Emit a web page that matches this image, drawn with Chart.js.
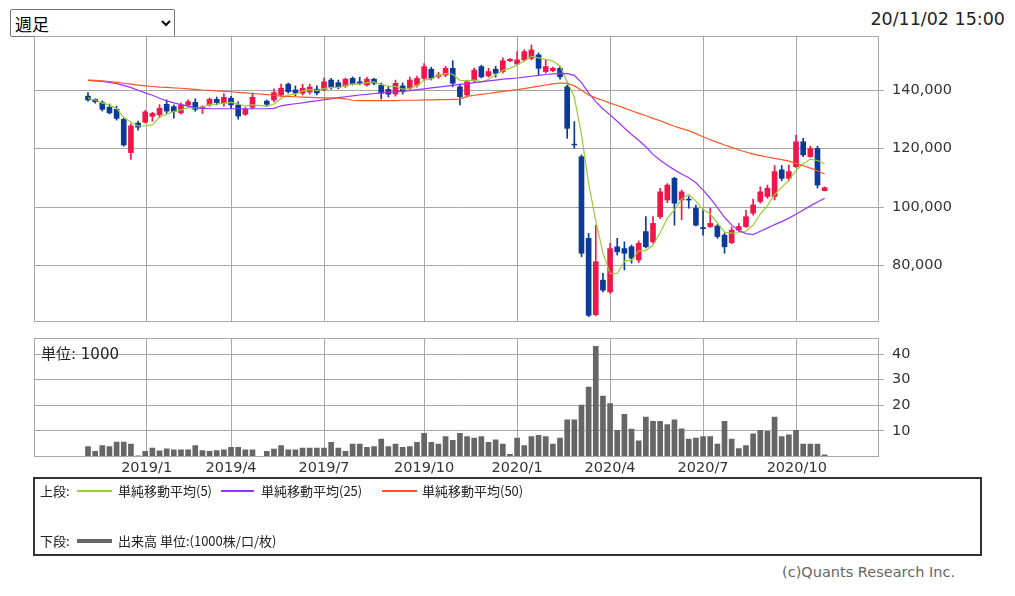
<!DOCTYPE html>
<html>
<head>
<meta charset="utf-8">
<script src="https://cdn.jsdelivr.net/npm/chart.js@4.4.0/dist/chart.umd.min.js"></script>
<style>
  body { margin: 0; background: #fff; font-family: "DejaVu Sans", "Noto Sans CJK JP", sans-serif; }
  #wrap { position: relative; width: 1015px; height: 596px; overflow: hidden; }
  canvas { position: absolute; left: 0; }
  .txt { position: absolute; white-space: nowrap; color: #222; }
  .lg { position: absolute; white-space: nowrap; font: 13px "Noto Sans CJK JP", sans-serif; color: #222; line-height: 16px; }
  .sw { position: absolute; }
</style>
</head>
<body>
<div id="wrap">
  <select style="position:absolute;left:10px;top:9px;width:165px;height:28px;font-size:17px;font-family:'Noto Sans CJK JP';">
    <option>週足</option>
  </select>
  <div class="txt" style="right:10px;top:9px;font-size:17.5px;">20/11/02 15:00</div>

  <canvas id="price" width="1015" height="350" style="top:0"></canvas>
  <canvas id="vol" width="1015" height="170" style="top:310px"></canvas>
  <div class="txt" style="left:41px;top:342px;font-size:15px;">単位: 1000</div>

  <div style="position:absolute;left:33px;top:477px;width:949px;height:79px;border:2px solid #333;box-sizing:border-box;"></div>
  <div class="lg" style="left:40px;top:483px;">上段:</div>
  <div class="sw" style="left:77px;top:490px;width:35px;height:2px;background:#99cc33;"></div>
  <div class="lg" style="left:118px;top:483px;">単純移動平均(5)</div>
  <div class="sw" style="left:221px;top:490px;width:33px;height:2px;background:#9933ff;"></div>
  <div class="lg" style="left:261px;top:483px;">単純移動平均(25)</div>
  <div class="sw" style="left:382px;top:490px;width:35px;height:2px;background:#ff5522;"></div>
  <div class="lg" style="left:422px;top:483px;">単純移動平均(50)</div>
  <div class="lg" style="left:40px;top:533px;">下段:</div>
  <div class="sw" style="left:77px;top:539px;width:35px;height:4px;background:#666;"></div>
  <div class="lg" style="left:118px;top:533px;">出来高 単位:(1000株/口/枚)</div>

  <div class="txt" style="right:60px;top:564px;font-size:14.5px;color:#666;">(c)Quants Research Inc.</div>
</div>

<script>
// weekly candles, index 0 = week of 2018/11/12 ... index 103 = week of 2020/11/02
// index 24 = Golden Week 2019, no trading
const openP = [
  137900, 136800, 135700, 134100, 133400, 130000, 118600, 128700, 129000, 131000,
  131500, 135100, 134300, 132200, 134900, 135800, 133700, 134900, 136800, 135500,
  137200, 134900, 131700, 134100, null,   136200, 136600, 138300, 142000, 140000,
  138900, 139300, 140300, 140200, 143400, 142500, 141400, 144000, 142800, 141700,
  143700, 141700, 140200, 138600, 141400, 140600, 141700, 144000, 147100, 144600,
  145100, 147400, 141100, 138300, 143400, 148000, 144800, 147100, 146300, 150000,
  148900, 150300, 150800, 152000, 146300, 146600, 147400, 141100, 121500, 117200,
  89300,  63200,  75000,  71000,  86400,  85800,  86400,  81900,  91600,  88100,
  96700,  102400, 109800, 102400, 102700, 99600,  93000,  93300,  93500,  90400,
  87800,  92100,  93300,  97900,  101900, 103600, 103600, 112700, 109800, 113800,
  122300, 117200, 120000, 105600
];
const highP = [
  139100, 137000, 136300, 135200, 134500, 130400, 128400, 129400, 133000, 132400,
  135000, 136600, 134900, 135600, 136600, 137000, 134600, 137300, 137600, 138800,
  137800, 136000, 134000, 139000, null,   136600, 140400, 142000, 142400, 141400,
  142000, 142000, 141400, 144100, 144000, 143400, 144100, 144500, 144400, 144300,
  144000, 142400, 141400, 143400, 142400, 144400, 144800, 149000, 147800, 146000,
  148100, 150000, 142000, 143400, 147500, 148500, 147400, 148100, 151000, 150800,
  153100, 153800, 155400, 152700, 150300, 147800, 148000, 141700, 129200, 117800,
  91000,  93800,  77300,  87600,  89300,  88100,  87000,  88400,  96700,  96700,
  106400, 108000, 110200, 105800, 103600, 100700, 99000,  99600,  94000,  91000,
  93200,  94400,  98900,  102700, 106900, 107500, 114200, 114200, 114300, 124600,
  123500, 120800, 120800, 106900
];
const lowP = [
  136200, 135500, 132800, 131800, 129700, 120800, 116300, 126300, 128700, 129300,
  130500, 132000, 130400, 131700, 134500, 132700, 132000, 134500, 134900, 134500,
  133700, 130000, 131300, 133500, null,   134600, 136000, 137600, 138900, 138000,
  138300, 138600, 138300, 139800, 140300, 140400, 140900, 141700, 141800, 141300,
  141700, 136900, 137600, 137900, 138600, 139800, 141000, 143400, 143400, 144000,
  144500, 141100, 134900, 137600, 142700, 144100, 144400, 144400, 145800, 149700,
  148500, 149900, 150300, 145100, 145800, 146300, 143700, 123500, 120100, 83000,
  62500,  62800,  71000,  70500,  83600,  78500,  80800,  81000,  86000,  87600,
  96000,  101500, 93800,  95600,  99600,  93500,  90400,  93000,  89300,  84200,
  87500,  91600,  93000,  97200,  101300, 103000, 102400, 109000, 108900, 113500,
  117200, 117000, 106500, 105500
];
const closeP = [
  136600, 136000, 133400, 132200, 130300, 121200, 127700, 127300, 132500, 132000,
  133800, 132800, 132600, 134900, 136000, 133400, 134200, 136800, 135700, 137500,
  134900, 131100, 133400, 137500, null,   135100, 139100, 140600, 139400, 139000,
  140600, 141000, 139000, 142800, 140900, 140900, 143700, 142100, 142300, 143700,
  142300, 138900, 138600, 142300, 139400, 143400, 144000, 148000, 144000, 145100,
  147400, 142300, 137700, 142800, 146800, 144500, 146300, 145700, 150000, 150500,
  150300, 153100, 153700, 147400, 148000, 147400, 144500, 126900, 121200, 84200,
  63000,  81300,  71600,  85800,  84700,  84200,  82500,  87600,  86400,  94400,
  105200, 107500, 101300, 105200, 102400, 93800,  92600,  94400,  89900,  86400,
  92100,  93300,  96700,  100700, 105200, 106400, 112100, 109800, 112100, 122300,
  117800, 120000, 107500, 106600
];
// volume, unit 1000
const volume = [
  3.9, 2.0, 4.3, 3.9, 5.6, 5.6, 4.9, 0.3, 2.0, 3.3,
  2.2, 3.0, 2.6, 2.6, 2.6, 4.3, 2.3, 2.0, 2.3, 2.6,
  3.6, 3.6, 2.6, 2.6, null, 2.0, 2.9, 4.3, 2.6, 2.6,
  3.3, 3.3, 3.3, 3.3, 5.5, 3.3, 2.0, 4.9, 4.9, 3.6,
  3.9, 6.8, 3.9, 4.9, 3.6, 3.9, 5.5, 9.1, 5.5, 4.9,
  7.8, 6.3, 9.1, 7.8, 7.2, 7.8, 5.5, 6.5, 4.9, 0.8,
  7.2, 4.3, 7.8, 8.3, 7.8, 4.9, 7.2, 14.3, 14.3, 20.1,
  27.1, 43.0, 23.6, 20.7, 10.2, 16.5, 10.7, 6.1, 15.4, 13.7,
  13.7, 12.5, 14.3, 10.8, 6.8, 7.2, 7.8, 7.8, 4.9, 13.7,
  6.8, 3.1, 4.3, 8.9, 10.2, 9.8, 15.4, 7.8, 8.5, 10.2,
  4.9, 4.9, 4.9, 0.7
];
const ma5 = [
  137200, 136600, 135500, 134900, 133700, 130600, 129000, 127700, 127800, 128100,
  130700, 131700, 132700, 133200, 134000, 133900, 134200, 135100, 135200, 135500,
  135800, 135200, 134500, 134900, null,   134400, 135200, 137100, 138300, 138600,
  139700, 140100, 139800, 140500, 140900, 140900, 141500, 142100, 142000, 142500,
  142800, 141900, 141200, 141200, 140300, 140500, 141500, 143400, 143800, 144900,
  145700, 145400, 143300, 143100, 143400, 142800, 143600, 145200, 146700, 147400,
  148600, 149900, 151500, 151000, 150500, 149900, 148200, 142800, 137600, 124800,
  108000, 95300,  84300,  77200,  77300,  81500,  81800,  85000,  85100,  87000,
  91200,  96200,  99000,  102700, 104300, 102000, 99100,  97700,  94600,  91400,
  91100,  91200,  91700,  93800,  97600,  100500, 104200, 106800, 109100, 112500,
  114800, 116400, 115900, 114800
];
const ma25 = [
  143300, 143100, 142900, 142600, 142200, 141600, 140800, 139900, 139000, 138200,
  137200, 136300, 135600, 135000, 134500, 134000, 133700, 133600, 133600, 133600,
  133600, 133600, 133600, 133600, null,   133600, 133700, 134600, 135000, 135300,
  135600, 136000, 136300, 136700, 137000, 137400, 137700, 138000, 138300, 138500,
  138800, 139000, 139200, 139400, 139600, 139800, 140100, 140400, 140700, 141000,
  141300, 141600, 141900, 142200, 142500, 142800, 143100, 143400, 143700, 143900,
  144100, 144400, 144700, 145000, 145300, 145500, 145700, 145600, 145000, 142500,
  139000, 136000, 133500, 131500, 129300, 127000, 124800, 122800, 120600, 118000,
  116000, 114300, 112700, 111300, 110000, 108300, 105800, 103000, 99800,  96500,
  93800,  92000,  90900,  90600,  91700,  92800,  94000,  95000,  96200,  97500,
  99000,  100400, 101700, 103000
];
const ma50 = [
  143400, 143300, 143100, 142900, 142600, 142300, 142000, 141700, 141400, 141200,
  141000, 140900, 140700, 140600, 140400, 140200, 140000, 139900, 139700, 139500,
  139400, 139200, 139000, 138800, null,   138400, 138200, 137900, 137800, 137700,
  137600, 137500, 137400, 137300, 137300, 137200, 137000, 136500, 136400, 136400,
  136400, 136400, 136400, 136400, 136500, 136500, 136500, 136600, 136600, 136700,
  136700, 136800, 136900, 137800, 138200, 138500, 138800, 139200, 139500, 139800,
  140100, 140500, 140900, 141300, 141700, 142100, 142400, 142300, 141400, 139900,
  138300, 137300, 136400, 135500, 134700, 133800, 132900, 132000, 131200, 130300,
  129500, 128500, 127600, 126800, 126100, 125100, 124000, 123000, 122100, 121200,
  120400, 119500, 118800, 118100, 117600, 117100, 116600, 116200, 115700, 114900,
  114100, 113300, 112400, 111300
];

// x axis: week index positions of the quarter grid lines
const tickPos = [8.2, 20, 33, 47, 60, 73, 86, 99.1];
const tickLabels = ['2019/1', '2019/4', '2019/7', '2019/10', '2020/1', '2020/4', '2020/7', '2020/10'];
const priceTicks = [80000, 100000, 120000, 140000];
const volTicks = [10, 20, 30, 40];

const UP = '#f0164a';
const DOWN = '#0c3a98';
const GRID = '#a8a8a8';
const X_MIN = -7.55, X_MAX = 110.6;
const tickFont = { family: 'DejaVu Sans', size: 14.5 };

// candle points (skip empty week)
const candles = [];
openP.forEach(function (o, i) {
  if (o === null) return;
  candles.push({ i: i, o: o, h: highP[i], l: lowP[i], c: closeP[i], up: closeP[i] >= o });
});

const framePlugin = {
  id: 'frame',
  afterDraw(chart) {
    const a = chart.chartArea;
    const ctx = chart.ctx;
    ctx.save();
    ctx.strokeStyle = GRID;
    ctx.lineWidth = 1;
    ctx.strokeRect(Math.round(a.left) + 0.5, Math.round(a.top) + 0.5,
      Math.round(a.right - a.left) - 1, Math.round(a.bottom - a.top) - 1);
    ctx.restore();
  }
};

function candleColor(ctx) {
  return ctx.raw && ctx.raw.up ? UP : DOWN;
}

function lineSet(values, color) {
  return {
    type: 'line',
    data: values.map(function (v, i) { return { x: i, y: v }; }),
    borderColor: color,
    borderWidth: 1.2,
    pointRadius: 0,
    tension: 0,
    spanGaps: true,
    order: 0
  };
}

new Chart(document.getElementById('price'), {
  type: 'bar',
  data: {
    datasets: [
      {
        data: candles.map(function (k) { return { x: k.i, y: [k.l, k.h], up: k.up }; }),
        backgroundColor: candleColor,
        barThickness: 1,
        grouped: false,
        order: 2
      },
      {
        data: candles.map(function (k) { return { x: k.i, y: [k.o, k.c], up: k.up }; }),
        backgroundColor: candleColor,
        barThickness: 5,
        grouped: false,
        order: 1
      },
      lineSet(ma50, '#ff5522'),
      lineSet(ma25, '#9933ff'),
      lineSet(ma5, '#99cc33')
    ]
  },
  options: {
    responsive: false,
    animation: false,
    devicePixelRatio: 1,
    layout: { padding: { left: 34, top: 36, right: 0, bottom: 28 } },
    plugins: { legend: { display: false }, tooltip: { enabled: false } },
    scales: {
      x: {
        type: 'linear', min: X_MIN, max: X_MAX, offset: false,
        afterBuildTicks: function (s) { s.ticks = tickPos.map(function (v) { return { value: v }; }); },
        afterFit: function (s) { s.height = 0; },
        ticks: { display: false },
        grid: { color: GRID, drawTicks: false, offset: false },
        border: { display: false }
      },
      y: {
        position: 'right', min: 60700, max: 158460,
        afterBuildTicks: function (s) { s.ticks = priceTicks.map(function (v) { return { value: v }; }); },
        afterFit: function (s) { s.width = 136; },
        ticks: {
          color: '#333', font: tickFont, padding: 8,
          callback: function (v) { return v.toLocaleString('en-US'); }
        },
        grid: { color: GRID, drawTicks: true, tickLength: 5 },
        border: { display: false }
      }
    }
  },
  plugins: [framePlugin]
});

new Chart(document.getElementById('vol'), {
  type: 'bar',
  data: {
    datasets: [{
      data: volume.map(function (v, i) { return { x: i, y: v }; }).filter(function (p) { return p.y !== null; }),
      backgroundColor: '#666',
      barThickness: 5
    }]
  },
  options: {
    responsive: false,
    animation: false,
    devicePixelRatio: 1,
    layout: { padding: { left: 34, top: 28, right: 0, bottom: 0 } },
    plugins: { legend: { display: false }, tooltip: { enabled: false } },
    scales: {
      x: {
        type: 'linear', min: X_MIN, max: X_MAX, offset: false,
        afterBuildTicks: function (s) { s.ticks = tickPos.map(function (v) { return { value: v }; }); },
        afterFit: function (s) { s.height = 23.5; },
        ticks: {
          color: '#333', font: tickFont, padding: 3, maxRotation: 0, autoSkip: false,
          callback: function (v, i) { return tickLabels[i]; }
        },
        grid: { color: GRID, drawTicks: false, offset: false },
        border: { display: false }
      },
      y: {
        position: 'right', min: 0, max: 46.3,
        afterBuildTicks: function (s) { s.ticks = volTicks.map(function (v) { return { value: v }; }); },
        afterFit: function (s) { s.width = 136; },
        ticks: { color: '#333', font: tickFont, padding: 8 },
        grid: { color: GRID, drawTicks: true, tickLength: 5 },
        border: { display: false }
      }
    }
  },
  plugins: [framePlugin]
});
</script>
</body>
</html>
